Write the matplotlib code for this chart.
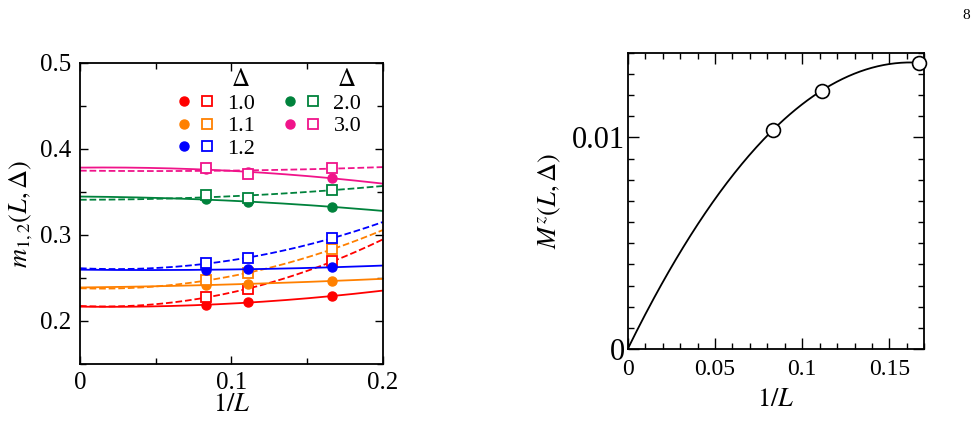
import numpy as np
import matplotlib
matplotlib.use("Agg")
import matplotlib.pyplot as plt
from matplotlib.legend_handler import HandlerTuple
from matplotlib.lines import Line2D
from matplotlib.ticker import MultipleLocator

plt.rcParams["font.family"] = ["Liberation Serif", "DejaVu Serif"]
plt.rcParams["mathtext.fontset"] = "stix"

# 1/L for L = 12, 9, 6
inv_L = [1 / 12, 1 / 9, 1 / 6]

deltas = ["1.0", "1.1", "1.2", "2.0", "3.0"]
colors = ["#ff0000", "#ff8000", "#0000ff", "#00823c", "#f0148a"]

# m_1 (filled circles) and m_2 (open squares)
m1 = [
    [0.2186, 0.2217, 0.2290],
    [0.2415, 0.2434, 0.2465],
    [0.2593, 0.2605, 0.2624],
    [0.3419, 0.3380, 0.3329],
    [0.3764, 0.3730, 0.3660],
]
m2 = [
    [0.2280, 0.2370, 0.2694],
    [0.2477, 0.2554, 0.2837],
    [0.2671, 0.2733, 0.2965],
    [0.3461, 0.3434, 0.3527],
    [0.3780, 0.3713, 0.3780],
]
# extrapolated values at 1/L = 0
m1_inf = [0.2167, 0.2390, 0.2597, 0.3446, 0.3783]
m2_inf = [0.2174, 0.2380, 0.2613, 0.3407, 0.3744]

# M^z(L, Delta)
mz = [0.01036, 0.01221, 0.01353]


def fit_curve(x0, y0, xs, ys, grid):
    coef = np.polyfit([x0] + list(xs), [y0] + list(ys), 2)
    return np.polyval(coef, grid)


def style_axis(ax, major, minor):
    ax.tick_params(which="both", direction="in", top=True, right=True, width=1.0)
    ax.tick_params(which="major", length=major)
    ax.tick_params(which="minor", length=minor)
    for s in ax.spines.values():
        s.set_linewidth(1.3)


fig = plt.figure(figsize=(9.79, 4.30), dpi=100)

# ---- left panel ----
ax1 = fig.add_axes([0.0817, 0.1535, 0.3095, 0.700])
grid = np.linspace(0, 0.2, 200)
handles = []
for i, c in enumerate(colors):
    ax1.plot(grid, fit_curve(0.0, m1_inf[i], inv_L, m1[i], grid), "-", color=c, lw=1.3)
    ax1.plot(grid, fit_curve(0.0, m2_inf[i], inv_L, m2[i], grid), "--", color=c, lw=1.3)
    ax1.plot(inv_L, m1[i], "o", color=c, ms=6.5, mec=c)
    ax1.plot(inv_L, m2[i], "s", mfc="white", mec=c, ms=6.5, mew=1.3)
    h_c = Line2D([], [], ls="", marker="o", color=c, ms=6.5)
    h_s = Line2D([], [], ls="", marker="s", mfc="white", mec=c, ms=6.5, mew=1.3)
    handles.append((h_c, h_s))

ax1.set_xlim(0, 0.2)
ax1.set_ylim(0.15, 0.5)
ax1.xaxis.set_major_locator(MultipleLocator(0.1))
ax1.xaxis.set_minor_locator(MultipleLocator(0.05))
ax1.yaxis.set_major_locator(MultipleLocator(0.1))
ax1.yaxis.set_minor_locator(MultipleLocator(0.05))
ax1.xaxis.set_major_formatter(lambda v, p: "0" if abs(v) < 1e-9 else f"{v:.1f}")
ax1.yaxis.set_major_formatter(lambda v, p: f"{v:.1f}")
style_axis(ax1, 6, 4)
ax1.tick_params(labelsize=18, pad=6)
ax1.set_xlabel("$1/L$", fontsize=19, labelpad=0)
ax1.set_ylabel(r"$m_{1,2}(L,\Delta)$", fontsize=19, labelpad=4)

leg = ax1.legend(handles, deltas, ncol=2, loc="upper right",
                 bbox_to_anchor=(0.98, 0.95), frameon=False, fontsize=16,
                 handler_map={tuple: HandlerTuple(ndivide=None, pad=0.44)},
                 handlelength=1.64, handletextpad=0.6, columnspacing=1.3,
                 labelspacing=0.08, borderpad=0.2)
ax1.text(0.531, 0.945, r"$\Delta$", transform=ax1.transAxes, fontsize=18, ha="center", va="center")
ax1.text(0.881, 0.945, r"$\Delta$", transform=ax1.transAxes, fontsize=18, ha="center", va="center")

# ---- right panel ----
ax2 = fig.add_axes([0.6412, 0.1884, 0.303, 0.689])
coef = np.linalg.lstsq(np.column_stack([np.array(inv_L) ** k for k in (1, 2, 3)]),
                       np.array(mz), rcond=None)[0]
g2 = np.linspace(0, 1 / 6, 200)
ax2.plot(g2, coef[0] * g2 + coef[1] * g2 ** 2 + coef[2] * g2 ** 3, "-", color="black", lw=1.3)
ax2.plot(inv_L, mz, "o", mfc="white", mec="black", ms=10, mew=1.2, clip_on=False, zorder=5)
ax2.set_xlim(0, 0.17)
ax2.set_ylim(0, 0.014)
ax2.xaxis.set_major_locator(MultipleLocator(0.05))
ax2.xaxis.set_minor_locator(MultipleLocator(0.01))
ax2.yaxis.set_major_locator(MultipleLocator(0.01))
ax2.yaxis.set_minor_locator(MultipleLocator(0.001))
ax2.xaxis.set_major_formatter(lambda v, p: "0" if abs(v) < 1e-9 else f"{v:g}")
ax2.yaxis.set_major_formatter(lambda v, p: "0" if abs(v) < 1e-9 else f"{v:g}")
style_axis(ax2, 8, 4.5)
ax2.tick_params(axis="x", labelsize=17, pad=7)
ax2.tick_params(axis="y", labelsize=22, pad=2)
ax2.set_xlabel("$1/L$", fontsize=19, labelpad=7)
ax2.set_ylabel(r"$M^z(L,\Delta)$", fontsize=19, labelpad=6)

fig.text(0.987, 0.965, "8", fontsize=11, ha="center", va="center")

fig.savefig("out.png", dpi=100)
